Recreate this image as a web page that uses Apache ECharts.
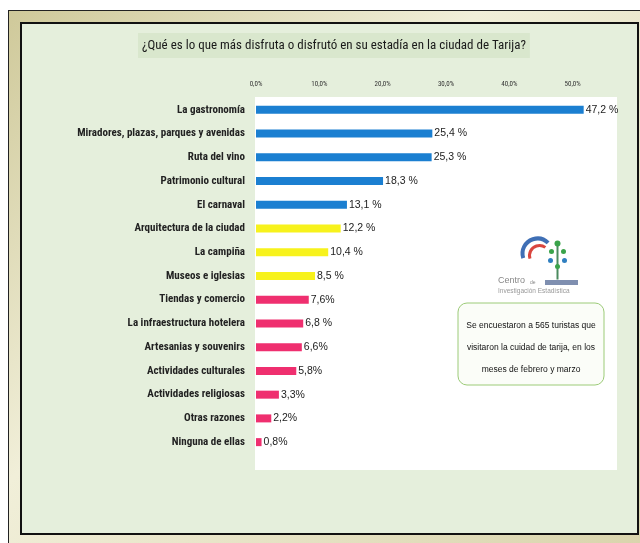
<!DOCTYPE html>
<html>
<head>
<meta charset="utf-8">
<script src="https://cdn.jsdelivr.net/npm/echarts@6/dist/echarts.min.js"></script>
<style>
  html, body { margin: 0; padding: 0; background: #fff; }
  #frame {
    position: absolute; left: 8px; top: 10px; width: 640px; height: 540px;
    border: 1px solid #222; box-sizing: border-box;
    background: linear-gradient(135deg, #cfc99a, #f1efd9 40%, #d9d4ac);
  }
  #inner {
    position: absolute; left: 20px; top: 22px; width: 619px; height: 513px;
    border: 2px solid #111; box-sizing: border-box; background: #e5efdc;
  }
  #chart { position: absolute; left: 0; top: 0; width: 640px; height: 543px; }
</style>
</head>
<body>
<div id="frame"></div>
<div id="inner"></div>
<div id="chart"></div>
<script>
  // categorias, de arriba hacia abajo
  var categories = ['La gastronomía', 'Miradores, plazas, parques y avenidas', 'Ruta del vino',
    'Patrimonio cultural', 'El carnaval', 'Arquitectura de la ciudad', 'La campiña',
    'Museos e iglesias', 'Tiendas y comercio', 'La infraestructura hotelera',
    'Artesanias y souvenirs', 'Actividades culturales', 'Actividades religiosas',
    'Otras razones', 'Ninguna de ellas'];
  var values = [47.2, 25.4, 25.3, 18.3, 13.1, 12.2, 10.4, 8.5, 7.6, 6.8, 6.6, 5.8, 3.3, 2.2, 0.8];
  var valueLabels = ['47,2 %', '25,4 %', '25,3 %', '18,3 %', '13,1 %', '12,2 %', '10,4 %', '8,5 %',
    '7,6%', '6,8 %', '6,6%', '5,8%', '3,3%', '2,2%', '0,8%'];
  var tickLabels = ['0,0%', '10,0%', '20,0%', '30,0%', '40,0%', '50,0%'];
  var noteLines = ['Se encuestaron a 565 turistas que', 'visitaron la cuidad de tarija, en los', 'meses de febrero y marzo'];

  var chart = echarts.init(document.getElementById('chart'));

  function barColor(i) {
    if (i < 5) return '#1b7fd1';
    if (i < 8) return '#f7f21c';
    return '#ef2f6f';
  }

  var option = {
    backgroundColor: 'transparent',
    title: {
      text: '¿Qué es lo que más disfruta o disfrutó en su estadía en la ciudad de Tarija?',
      left: 138, top: 33,
      padding: [6, 4, 6, 4],
      backgroundColor: '#d9e7cd',
      textStyle: { fontFamily: 'Roboto Condensed', fontSize: 13, fontWeight: 'normal', color: '#1a1a1a' }
    },
    grid: { left: 256, right: 23, top: 98, bottom: 89 },
    xAxis: [
      { type: 'value', min: 0, max: 52, show: false },
      {
        type: 'value', min: 0, max: 57, interval: 10, position: 'top',
        axisLine: { show: false }, axisTick: { show: false }, splitLine: { show: false },
        axisLabel: {
          margin: 10, fontSize: 7, color: '#333', fontFamily: 'Roboto Condensed',
          showMaxLabel: false,
          formatter: function (v) { return tickLabels[Math.round(v / 10)] || ''; }
        }
      }
    ],
    yAxis: {
      type: 'category', inverse: true, data: categories,
      axisLine: { show: false }, axisTick: { show: false },
      axisLabel: { margin: 11, fontSize: 11, fontWeight: 'bold', color: '#222', fontFamily: 'Roboto Condensed' }
    },
    graphic: [
      { type: 'rect', z: -10, shape: { x: 255, y: 97, width: 362, height: 373 }, style: { fill: '#ffffff' } },
      // logo
      { type: 'group', left: 520, top: 236, children: [
        { type: 'arc', shape: { cx: 16, cy: 20, r: 15, startAngle: Math.PI * 0.9, endAngle: Math.PI * 1.75 }, style: { stroke: '#3f6fb5', lineWidth: 4, fill: null } },
        { type: 'arc', shape: { cx: 18, cy: 22, r: 10, startAngle: Math.PI * 0.9, endAngle: Math.PI * 1.7 }, style: { stroke: '#d9463f', lineWidth: 3, fill: null } },
        { type: 'line', shape: { x1: 36, y1: 12, x2: 36, y2: 46 }, style: { stroke: '#4b8a5e', lineWidth: 2 } },
        { type: 'circle', shape: { cx: 36, cy: 10, r: 3 }, style: { fill: '#3aa34a' } },
        { type: 'circle', shape: { cx: 30, cy: 18, r: 2.5 }, style: { fill: '#3aa34a' } },
        { type: 'circle', shape: { cx: 42, cy: 18, r: 2.5 }, style: { fill: '#3aa34a' } },
        { type: 'circle', shape: { cx: 29, cy: 27, r: 2.5 }, style: { fill: '#2f7fc0' } },
        { type: 'circle', shape: { cx: 43, cy: 27, r: 2.5 }, style: { fill: '#2f7fc0' } },
        { type: 'circle', shape: { cx: 36, cy: 33, r: 2.5 }, style: { fill: '#3aa34a' } }
      ] },
      { type: 'text', left: 498, top: 276, style: { text: 'Centro', fontSize: 9, fill: '#888', fontFamily: 'Liberation Sans' } },
      { type: 'text', left: 530, top: 280, style: { text: 'de', fontSize: 5, fill: '#888', fontFamily: 'Liberation Sans' } },
      { type: 'rect', shape: { x: 545, y: 280, width: 33, height: 5 }, style: { fill: '#7f8fb0' } },
      { type: 'text', left: 498, top: 288, style: { text: 'Investigación Estadística', fontSize: 6.5, fill: '#999', fontFamily: 'Liberation Sans' } },
      // nota
      { type: 'rect', shape: { x: 458, y: 303, width: 146, height: 82, r: 9 }, style: { fill: '#fbfdf8', stroke: '#9ccb78', lineWidth: 1 } },
      { type: 'text', x: 531, y: 326, style: { text: noteLines[0], fontSize: 8.5, fill: '#111', align: 'center', verticalAlign: 'middle', fontFamily: 'Liberation Sans' } },
      { type: 'text', x: 531, y: 348, style: { text: noteLines[1], fontSize: 8.5, fill: '#111', align: 'center', verticalAlign: 'middle', fontFamily: 'Liberation Sans' } },
      { type: 'text', x: 531, y: 370, style: { text: noteLines[2], fontSize: 8.5, fill: '#111', align: 'center', verticalAlign: 'middle', fontFamily: 'Liberation Sans' } }
    ],
    series: [{
      type: 'bar',
      xAxisIndex: 0,
      data: values,
      barWidth: 8,
      itemStyle: { color: function (p) { return barColor(p.dataIndex); } },
      label: {
        show: true, position: 'right', distance: 2,
        fontSize: 10.5, color: '#222', fontFamily: 'Liberation Sans',
        formatter: function (p) { return valueLabels[p.dataIndex]; }
      }
    }]
  };

  chart.setOption(option);
  window.addEventListener('resize', function () { chart.resize(); });
</script>
</body>
</html>
